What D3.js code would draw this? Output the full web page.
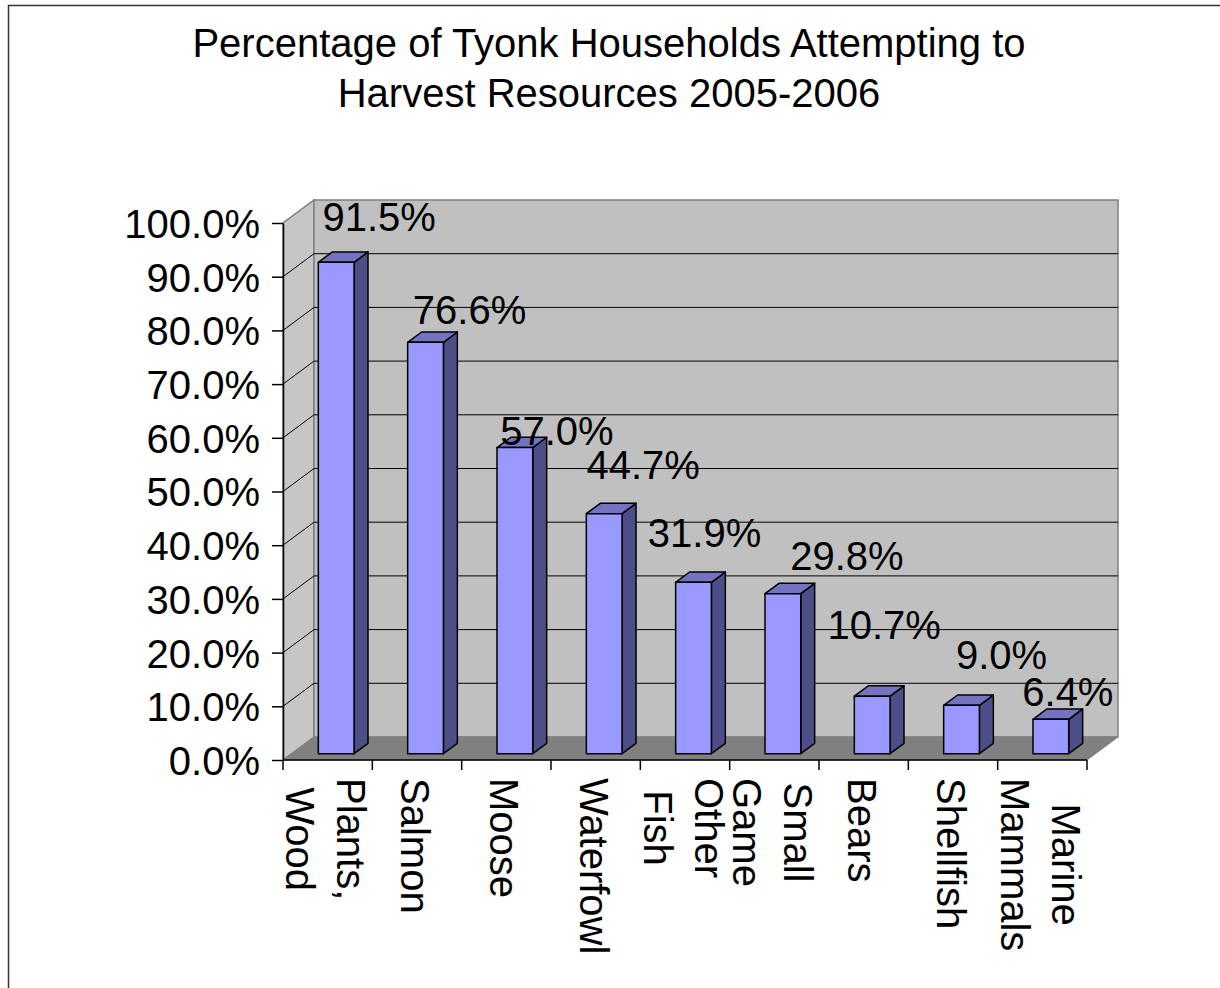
<!DOCTYPE html>
<html>
<head>
<meta charset="utf-8">
<script src="https://cdn.jsdelivr.net/npm/d3@7/dist/d3.min.js"></script>
<style>
  html, body { margin: 0; padding: 0; background: #fff; }
  svg { display: block; }
  text { font-family: "Liberation Sans", Arial, sans-serif; fill: #000; }
</style>
</head>
<body>
<svg id="chart" width="1220" height="988"></svg>
<script>
// Harvest attempt rates, Tyonek households 2005-2006
const categories = ["Plants, Wood", "Salmon", "Moose", "Waterfowl", "Other Fish",
                    "Small Game", "Bears", "Shellfish", "Marine Mammals"];
const values = [91.5, 76.6, 57.0, 44.7, 31.9, 29.8, 10.7, 9.0, 6.4];
const yTicks = [0, 10, 20, 30, 40, 50, 60, 70, 80, 90, 100];
const titleLines = ["Percentage of Tyonk Households Attempting to",
                    "Harvest Resources 2005-2006"];

// Nudges for the value labels, relative to each bar's top front edge
const labelNudgeX = [43, 44, 42, 39, 11, 64, 12, 40, 17];
const labelNudgeY = [-31, -18, -3, -35, -35, -24, -57, -36, -13];

const svg = d3.select("#chart");
const FONT = 40;

// Plot frame (front plane) and 3D depth vector
const plotL = 283, plotR = 1087, plotB = 760, plotT = 223;
const depth = { x: 31, y: -23 };
const barFront = 0.275, barBack = 0.725;   // bar position within the depth

const x = d3.scaleBand().domain(categories).range([plotL, plotR])
  .paddingInner(0.6).paddingOuter(0.3);
const y = d3.scaleLinear().domain([0, 100]).range([plotB, plotT]);

const proj = (px, py, f) => [px + depth.x * f, py + depth.y * f];
const poly = pts => pts.map(p => p.join(",")).join(" ");

// Outer frame
svg.append("rect")
  .attr("x", 8.5).attr("y", 5.5).attr("width", 1240).attr("height", 1000)
  .attr("fill", "#fff").attr("stroke", "#333").attr("stroke-width", 1.5);

// Title
svg.append("text")
  .attr("x", 609).attr("y", 57)
  .attr("text-anchor", "middle")
  .style("font-size", FONT + "px")
  .selectAll("tspan").data(titleLines).join("tspan")
  .attr("x", 609).attr("dy", (d, i) => i === 0 ? 0 : 50)
  .text(d => d);

// Walls and floor
const g = svg.append("g");
g.append("polygon") // side wall
  .attr("points", poly([[plotL, plotB], [plotL, plotT], proj(plotL, plotT, 1), proj(plotL, plotB, 1)]))
  .attr("fill", "#c6c6c6").attr("stroke", "#808080").attr("stroke-width", 1.5);
g.append("polygon") // back wall
  .attr("points", poly([proj(plotL, plotB, 1), proj(plotL, plotT, 1), proj(plotR, plotT, 1), proj(plotR, plotB, 1)]))
  .attr("fill", "#c0c0c0").attr("stroke", "#808080").attr("stroke-width", 1.5);
g.append("polygon") // floor
  .attr("points", poly([[plotL, plotB], [plotR, plotB], proj(plotR, plotB, 1), proj(plotL, plotB, 1)]))
  .attr("fill", "#808080").attr("stroke", "#808080").attr("stroke-width", 1);

// Gridlines on the side and back walls
const grid = yTicks.filter(t => t > 0 && t < 100);
g.selectAll("polyline.grid").data(grid).join("polyline")
  .attr("class", "grid")
  .attr("points", t => poly([[plotL, y(t)], proj(plotL, y(t), 1), proj(plotR, y(t), 1)]))
  .attr("fill", "none").attr("stroke", "#000").attr("stroke-width", 1);

// Bars: front face, top and right side
const shade = { front: "#9999ff", top: "#7373bf", side: "#4d4d87" };
const bars = g.selectAll("g.bar").data(values).join("g").attr("class", "bar");
bars.each(function (v, i) {
  const b = d3.select(this);
  const x0 = x(categories[i]), x1 = x0 + x.bandwidth();
  const yt = y(v), yb = y(0);
  const F = (px, py) => proj(px, py, barFront);
  const B = (px, py) => proj(px, py, barBack);
  b.append("polygon")
    .attr("points", poly([F(x1, yt), F(x1, yb), B(x1, yb), B(x1, yt)]))
    .attr("fill", shade.side);
  b.append("polygon")
    .attr("points", poly([F(x0, yt), F(x1, yt), B(x1, yt), B(x0, yt)]))
    .attr("fill", shade.top);
  b.append("polygon")
    .attr("points", poly([F(x0, yt), F(x1, yt), F(x1, yb), F(x0, yb)]))
    .attr("fill", shade.front);
  b.selectAll("polygon").attr("stroke", "#000").attr("stroke-width", 1.5)
    .attr("stroke-linejoin", "round");
});

// Value axis
const yAxis = svg.append("g")
  .attr("transform", `translate(${plotL},0)`)
  .call(d3.axisLeft(y).tickValues(yTicks).tickFormat(d => d.toFixed(1) + "%")
    .tickSize(11).tickPadding(12).tickSizeOuter(0));
yAxis.select(".domain").attr("stroke", "#000").attr("stroke-width", 1.5);
yAxis.selectAll(".tick line").attr("stroke", "#000").attr("stroke-width", 1.5);
yAxis.selectAll(".tick text")
  .attr("dy", "0.36em")
  .style("font-size", FONT + "px")
  .style("font-family", '"Liberation Sans", Arial, sans-serif');

// Category axis with ticks at band boundaries
const cat = svg.append("g");
cat.append("line")
  .attr("x1", plotL).attr("x2", plotR).attr("y1", plotB).attr("y2", plotB)
  .attr("stroke", "#000").attr("stroke-width", 1.5);
const bounds = d3.range(categories.length + 1).map(i => plotL + i * x.step());
cat.selectAll("line.tick").data(bounds).join("line")
  .attr("class", "tick")
  .attr("x1", d => d).attr("x2", d => d)
  .attr("y1", plotB).attr("y2", plotB + 10)
  .attr("stroke", "#000").attr("stroke-width", 1.5);

// Rotated category labels; lines centred on the longest one
const lineGap = 51, labelTop = 778;
categories.forEach(name => {
  const lines = name.split(" ");
  const cx = x(name) + x.bandwidth() / 2;
  const lg = cat.append("g")
    .attr("transform", `translate(${cx},${labelTop}) rotate(90)`);
  const ts = lines.map((ln, i) => lg.append("text")
    .style("font-size", FONT + "px")
    .attr("text-anchor", "middle")
    .attr("y", 16 - (lines.length - 1) * lineGap / 2 + i * lineGap)
    .text(ln));
  const L = d3.max(ts, t => t.node().getComputedTextLength());
  ts.forEach(t => t.attr("x", L / 2));
});

// Value labels
svg.selectAll("text.value").data(values).join("text")
  .attr("class", "value")
  .attr("text-anchor", "middle")
  .style("font-size", FONT + "px")
  .attr("x", (v, i) => proj(x(categories[i]) + x.bandwidth() / 2, 0, barFront)[0] + labelNudgeX[i])
  .attr("y", (v, i) => proj(0, y(v), barFront)[1] + labelNudgeY[i])
  .text(v => v.toFixed(1) + "%");
</script>
</body>
</html>
